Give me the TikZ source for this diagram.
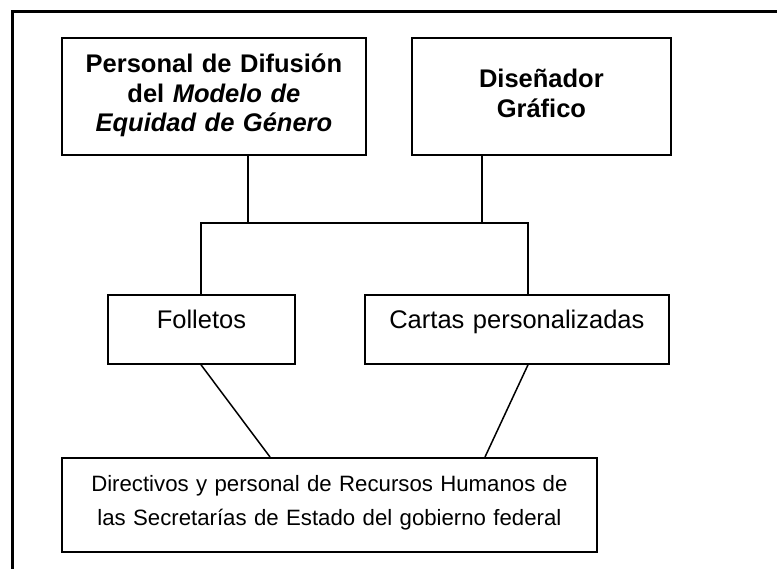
\documentclass[tikz,border=0pt]{standalone}
\usepackage{fontspec}
\setmainfont{Liberation Sans}
\begin{document}
\begin{tikzpicture}[x=1pt,y=-1pt,
  box/.style={draw, line width=1.8pt, inner sep=0pt, align=center, anchor=north west},
  boldtxt/.style={font=\fontsize{25.5}{29.5}\selectfont\bfseries},
  regtxt/.style={font=\fontsize{25.5}{30}\selectfont},
  bottxt/.style={font=\fontsize{22.2}{33.5}\selectfont},
  conn/.style={line width=1.5pt}]
\useasboundingbox (0,0) rectangle (777,569);
% outer frame
\draw[line width=3pt] (777,11.5) -- (12.5,11.5) -- (12.5,569);
% boxes
\node[box, boldtxt, text width=304pt, text height=35pt, text depth=82pt] (b1) at (61,37)
  {Personal de Difusión\\ del \textit{Modelo de}\\ \textit{Equidad de Género}};
\node[box, boldtxt, text width=259pt, text height=50pt, text depth=67pt] (b2) at (411,37)
  {Diseñador\\ Gráfico};
\node[box, regtxt, text width=187pt, text height=34pt, text depth=35pt] (fol) at (107,294)
  {Folletos};
\node[box, regtxt, text width=304pt, text height=34pt, text depth=35pt] (car) at (364,294)
  {Cartas personalizadas};
\node[box, bottxt, text width=535pt, text height=34pt, text depth=60pt] (bot) at (61,457)
  {Directivos y personal de Recursos Humanos de\\ las Secretarías de Estado del gobierno federal};
% junction coordinates
\coordinate (j1) at (248,223);
\coordinate (j2) at (482,223);
\coordinate (jl) at (201,223);
\coordinate (jr) at (528,223);
\coordinate (dl) at (270,457);
\coordinate (dr) at (485,457);
\coordinate (ul) at (201,363);
\coordinate (ur) at (528,363);
% connectors
\draw[conn] (b1.south -| j1) -- (j1);
\draw[conn] (b2.south -| j2) -- (j2);
\draw[conn] (jl |- fol.north) -- (jl) -- (jr) -- (jr |- car.north);
\draw[conn] (fol.south -| ul) -- (bot.north -| dl);
\draw[conn] (car.south -| ur) -- (bot.north -| dr);
\end{tikzpicture}
\end{document}
